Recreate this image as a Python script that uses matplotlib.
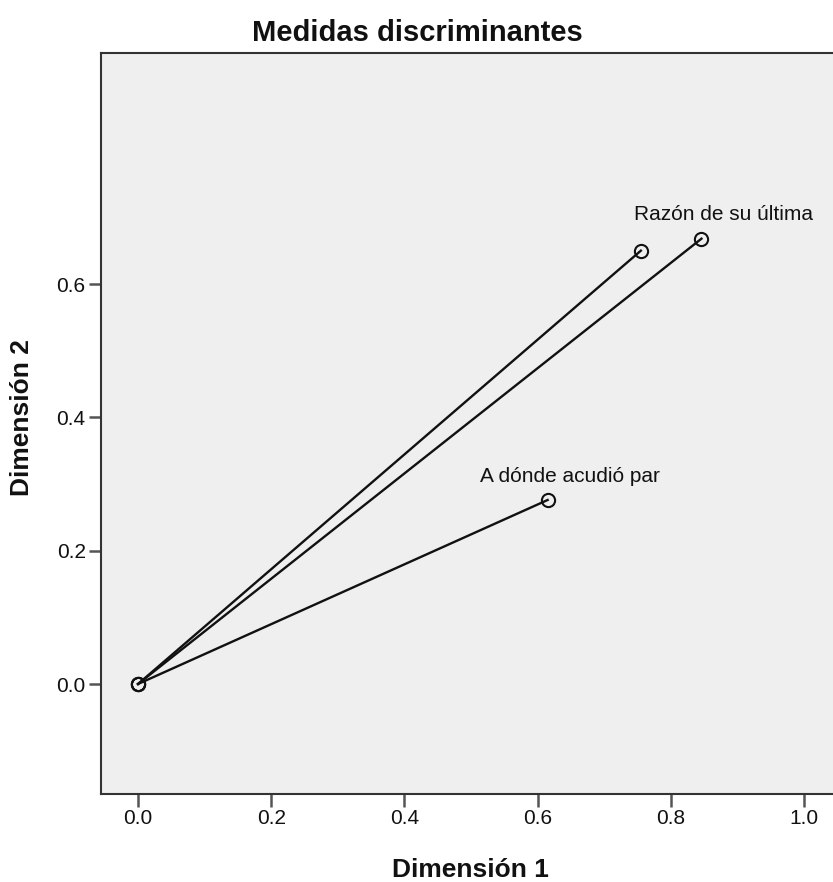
import matplotlib
matplotlib.use("Agg")
import matplotlib.pyplot as plt

plt.rcParams["font.family"] = ["Liberation Sans", "DejaVu Sans"]

# discrimination measures (dim 1, dim 2) per variable
variables = ["Razón de su última", "", "A dónde acudió par"]
dim1 = [0.846, 0.755, 0.615]
dim2 = [0.668, 0.650, 0.276]
show_label = [True, False, True]

xticks = [0.0, 0.2, 0.4, 0.6, 0.8, 1.0]
yticks = [0.0, 0.2, 0.4, 0.6]

W, H = 833, 882
fig = plt.figure(figsize=(W / 100, H / 100), dpi=100)
ax = fig.add_axes([101 / W, 1 - 794 / H, 1 - 101 / W, (794 - 53) / H])
ax.set_facecolor("#EFEFEF")

for x, y in zip(dim1, dim2):
    ax.plot([0, x], [0, y], color="#111111", lw=1.7, zorder=2)
ax.plot([0] * len(dim1), [0] * len(dim1), "o", ms=9.5, mfc="none", mec="#111111", mew=1.5, zorder=3)
ax.plot(dim1, dim2, "o", ms=9.5, mfc="none", mec="#111111", mew=1.5, zorder=3)
for name, x, y, s in zip(variables, dim1, dim2, show_label):
    if s:
        ax.annotate(name, (x, y), xytext=(22, 24), textcoords="offset pixels",
                    ha="center", va="center", fontsize=15, color="#111111")

ax.set_xlim(-0.0556, 1.0435)
ax.set_ylim(-0.165, 0.9465)
ax.set_xticks(xticks)
ax.set_yticks(yticks)
ax.set_xticklabels([f"{v:.1f}" for v in xticks])
ax.set_yticklabels([f"{v:.1f}" for v in yticks])
ax.tick_params(direction="out", length=9, width=1.8, color="#555555",
               labelsize=15, labelcolor="#111111", pad=2)
for side in ["left", "bottom", "top"]:
    ax.spines[side].set_color("#333333")
    ax.spines[side].set_linewidth(1.5)
ax.spines["right"].set_visible(False)

fig.text(417 / W, 1 - 41 / H, "Medidas discriminantes", ha="center", va="baseline",
         fontsize=21, fontweight="bold", color="#111111")
fig.text(470 / W, 1 - 877 / H, "Dimensión 1", ha="center", va="baseline",
         fontsize=19, fontweight="bold", color="#111111")
fig.text(22 / W, 1 - 418 / H, "Dimensión 2", ha="center", va="center", rotation=90,
         fontsize=19, fontweight="bold", color="#111111")

fig.savefig("out.png", dpi=100)
